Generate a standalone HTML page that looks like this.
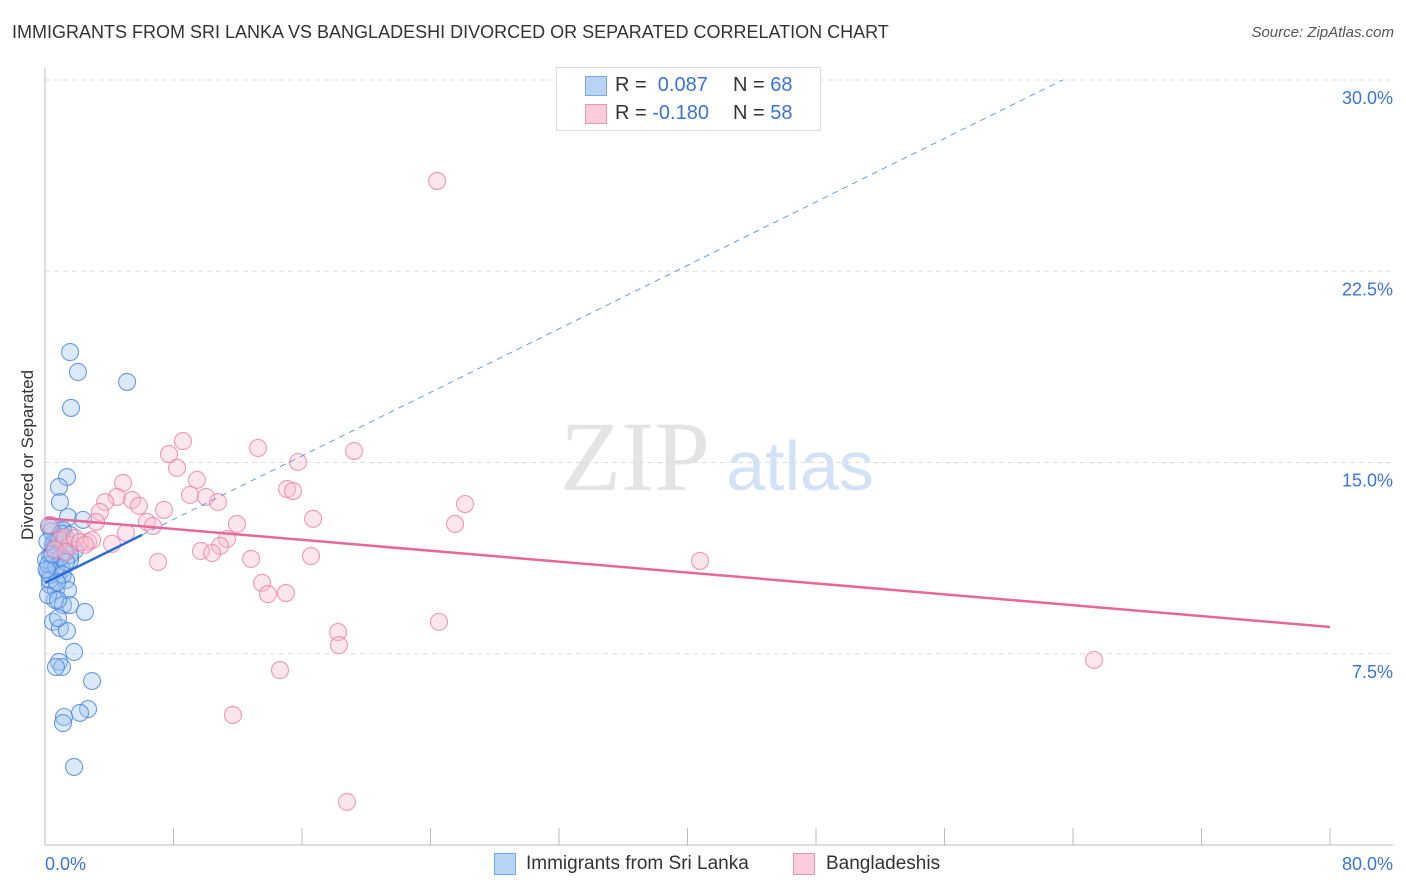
<!DOCTYPE html>
<html><head><meta charset="utf-8"><style>
body{margin:0;background:#fff;font-family:"Liberation Sans",sans-serif}
#wrap{position:relative;width:1406px;height:892px;overflow:hidden}
.t{position:absolute;white-space:nowrap}
</style></head><body><div id="wrap">
<div class="t" style="left:12px;top:22px;font-size:18px;color:#333">IMMIGRANTS FROM SRI LANKA VS BANGLADESHI DIVORCED OR SEPARATED CORRELATION CHART</div>
<div class="t" style="right:12px;top:24px;font-size:15px;color:#555;font-style:italic">Source: ZipAtlas.com</div>
<svg id="svg" width="1406" height="892" style="position:absolute;left:0;top:0">
<text x="635" y="490" font-size="100" font-family="Liberation Serif" fill="#e4e4e4" text-anchor="middle">ZIP</text>
<text x="800" y="490" font-size="70" font-family="Liberation Sans" fill="#d4e2f5" text-anchor="middle">atlas</text>
</svg>
<div class="t" style="top:455px;transform:translate(-50%,-50%) rotate(-90deg);transform-origin:center;left:28px;font-size:17px;color:#333">Divorced or Separated</div>
<div style="position:absolute;left:556px;top:67px;width:263px;height:62px;border:1px solid #ddd;background:#fff">
<div style="position:absolute;left:28px;top:8px;width:20px;height:18px;background:#b9d3f5;border:1px solid #7aa7e6"></div>
<div style="position:absolute;left:28px;top:36px;width:20px;height:18px;background:#fbcbd9;border:1px solid #eb93b0"></div>
<div class="t" style="left:58px;top:6px;font-size:20px;color:#333">R = &nbsp;<span style="color:#3a74d8">0.087</span></div>
<div class="t" style="left:176px;top:6px;font-size:20px;color:#333">N = <span style="color:#3a74d8">68</span></div>
<div class="t" style="left:58px;top:34px;font-size:20px;color:#333">R = <span style="color:#3a74d8">-0.180</span></div>
<div class="t" style="left:176px;top:34px;font-size:20px;color:#333">N = <span style="color:#3a74d8">58</span></div>
</div>
<div style="position:absolute;left:494px;top:853px;width:20px;height:20px;background:#b9d3f5;border:1px solid #7aa7e6"></div>
<div class="t" style="left:526px;top:853px;font-size:19px;color:#333">Immigrants from Sri Lanka</div>
<div style="position:absolute;left:793px;top:853px;width:20px;height:20px;background:#fbcbd9;border:1px solid #eb93b0"></div>
<div class="t" style="left:826px;top:853px;font-size:19px;color:#333">Bangladeshis</div>
</div>
<script>
const yTicks=[7.5,15,22.5,30];
const yTickLabels=["7.5%","15.0%","22.5%","30.0%"];
const xTickLabels=["0.0%","80.0%"];
const blueX=[1.56,2.05,5.11,1.62,1.37,0.87,0.93,1.43,2.37,0.44,1.12,1.56,0.62,1.25,1.87,0.31,0.93,1.56,0.44,1.06,0.19,0.81,1.31,0.31,0.68,1.43,0.62,0.19,1.12,1.56,2.49,0.5,0.93,1.37,0.81,1.81,0.87,1.06,0.68,2.93,2.68,2.18,1.18,1.12,1.81,0.31,0.56,0.06,0.81,1.56,0.2,0.5,0.9,1.2,0.3,0.7,1.0,0.4,0.8,1.3,0.1,0.6,1.1,0.25,0.75,0.45,1.0,0.15];
const blueY=[19.33,18.55,18.16,17.14,14.43,14.04,13.45,12.86,12.75,12.47,12.35,12.16,11.96,11.77,11.57,11.37,11.26,11.18,10.98,10.79,10.71,10.59,10.39,10.2,10.0,10.0,9.61,9.8,9.41,9.41,9.14,8.75,8.51,8.39,8.9,7.57,7.18,6.98,6.98,6.43,5.33,5.18,5.02,4.78,3.06,10.59,11.65,11.18,9.61,11.37,11.0,11.8,12.1,11.5,10.4,10.9,11.3,12.3,12.0,11.1,10.8,11.6,10.6,12.5,10.3,11.4,12.2,11.9];
const pinkX=[24.41,8.59,13.26,7.72,19.24,8.22,15.75,9.46,4.86,15.07,15.44,9.03,4.48,10.02,5.42,3.74,10.77,5.85,26.15,7.41,3.42,16.69,3.18,6.35,6.72,25.53,11.95,5.04,11.33,2.68,4.17,10.9,9.71,10.4,16.56,12.83,7.04,40.78,13.51,13.88,15.0,24.53,18.24,18.3,65.31,14.63,11.7,18.8,0.93,1.25,1.56,1.87,2.18,0.62,0.31,2.93,1.31,2.49];
const pinkY=[26.04,15.84,15.57,15.33,15.45,14.79,15.02,14.32,14.2,13.96,13.88,13.73,13.65,13.65,13.53,13.45,13.45,13.3,13.37,13.14,13.06,12.79,12.67,12.67,12.51,12.59,12.59,12.24,12.0,11.88,11.81,11.73,11.53,11.45,11.33,11.22,11.1,11.14,10.28,9.84,9.88,8.75,8.35,7.84,7.26,6.86,5.1,1.69,11.96,12.08,11.77,12.04,11.88,11.57,12.55,11.96,11.49,11.77];
const blueTrend=[10.28,12.16]; const blueTrendX=[0,6.04];
const pinkTrend=[12.82,8.55];
const sx=v=>45+v/80*1285, sy=v=>845-v/30*765;
const svg=document.getElementById('svg'),NS='http://www.w3.org/2000/svg';
function mk(tag,at){const e=document.createElementNS(NS,tag);for(const k in at)e.setAttribute(k,at[k]);svg.appendChild(e);return e;}
yTicks.forEach((t,i)=>{
 const g=mk('line',{x1:45,x2:1393,y1:sy(t),y2:sy(t),stroke:'#ddd','stroke-dasharray':'5,4'});
 
 
 const l=mk('text',{x:1393,y:sy(t)+24,'font-size':18,fill:'#3a74d8','text-anchor':'end','font-family':'Liberation Sans'});
 l.textContent=yTickLabels[i];
 
 
});
let ax=mk('line',{x1:45,x2:45,y1:68,y2:845,stroke:'#bbb'});


ax=mk('line',{x1:45,x2:1393,y1:845,y2:845,stroke:'#bbb'});


for(let i=0;i<=10;i++){const tk=mk('line',{x1:sx(i*8),x2:sx(i*8),y1:828,y2:845,stroke:'#bbb'});
 
 }
[[0,45,'start'],[80,1393,'end']].forEach((a,i)=>{const l=mk('text',{x:a[1],y:870,'font-size':18,fill:'#3a74d8','text-anchor':a[2],'font-family':'Liberation Sans'});
 l.textContent=xTickLabels[i];
 
 });
blueX.forEach((x,i)=>{const c=mk('circle',{cx:sx(x),cy:sy(blueY[i]),r:8.5,fill:'rgba(160,196,240,0.38)',stroke:'rgba(70,130,220,0.8)','stroke-width':1.1});
 
 });
pinkX.forEach((x,i)=>{const c=mk('circle',{cx:sx(x),cy:sy(pinkY[i]),r:8.5,fill:'rgba(248,190,208,0.38)',stroke:'rgba(232,130,165,0.8)','stroke-width':1.1});
 
 });
const bs=(blueTrend[1]-blueTrend[0])/(blueTrendX[1]-blueTrendX[0]);
const xEnd=(30-blueTrend[0])/bs;
let tl=mk('line',{x1:sx(blueTrendX[1]),y1:sy(blueTrend[1]),x2:sx(xEnd),y2:sy(30),stroke:'#6a9be0','stroke-width':1,'stroke-dasharray':'6,5'});


tl=mk('line',{x1:sx(0),y1:sy(pinkTrend[0]),x2:sx(80),y2:sy(pinkTrend[1]),stroke:'#e6679a','stroke-width':2.5});


tl=mk('line',{x1:sx(blueTrendX[0]),y1:sy(blueTrend[0]),x2:sx(blueTrendX[1]),y2:sy(blueTrend[1]),stroke:'#2c6bd6','stroke-width':2.5});


</script></body></html>
